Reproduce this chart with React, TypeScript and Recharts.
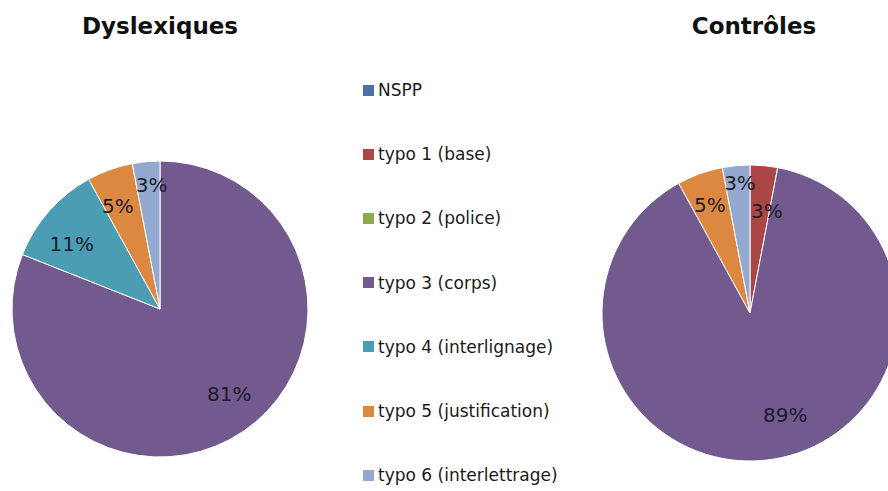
import React from "react";
import { PieChart, Pie, Cell, Legend } from "recharts";

const categories = [
  "NSPP",
  "typo 1 (base)",
  "typo 2 (police)",
  "typo 3 (corps)",
  "typo 4 (interlignage)",
  "typo 5 (justification)",
  "typo 6 (interlettrage)",
];
const dyslexiquesValues = [0, 0, 0, 81, 11, 5, 3];
const controlesValues = [0, 3, 0, 89, 0, 5, 3];
const titles = ["Dyslexiques", "Contrôles"];

const colors = ["#4A72A6", "#AA4745", "#8DAA4F", "#72598E", "#4A9DB3", "#DC8840", "#94A9D0"];
// label placement styles: radius factor and angular nudge (degrees)
const dysLabelR = [0.74, 0.74, 0.74, 0.74, 0.74, 0.75, 0.84];
const dysLabelA = [0, 0, 0, 5, 5, 2.5, -1.5];
const ctlLabelR = [0.74, 0.7, 0.74, 0.73, 0.74, 0.78, 0.88];
const ctlLabelA = [0, -4, 0, 10, 0, 0.5, -1];

const toData = (vals: number[]) => categories.map((name, i) => ({ name, value: vals[i] }));
const dysData = toData(dyslexiquesValues);
const ctlData = toData(controlesValues);

const RAD = Math.PI / 180;
const makeLabel = (factors: number[], nudges: number[]) => (props: any) => {
  const { cx, cy, midAngle, outerRadius, value, index } = props;
  if (!value) return null;
  const r = outerRadius * factors[index];
  const a = midAngle + nudges[index];
  const x = cx + r * Math.cos(-a * RAD);
  const y = cy + r * Math.sin(-a * RAD);
  return (
    <text
      x={x}
      y={y}
      textAnchor="middle"
      dominantBaseline="central"
      fill="#1c1c2c"
      fontSize={20}
      fontFamily="DejaVu Sans"
    >
      {`${value}%`}
    </text>
  );
};

const LegendContent = () => (
  <div style={{ display: "flex", flexDirection: "column", fontFamily: "DejaVu Sans", fontSize: 17, color: "#1a1a1a" }}>
    {categories.map((c, i) => (
      <div key={c} style={{ height: 64.2, display: "flex", alignItems: "center", whiteSpace: "nowrap" }}>
        <span style={{ display: "inline-block", width: 11, height: 11, background: colors[i], marginRight: 4 }} />
        <span>{c}</span>
      </div>
    ))}
  </div>
);

export default function App() {
  return (
    <div style={{ position: "absolute", left: 0, top: 0, width: 888, height: 491, background: "#fff", overflow: "hidden" }}>
      <PieChart width={888} height={491} margin={{ top: 0, right: 0, bottom: 0, left: 0 }}>
        <Pie
          data={dysData}
          dataKey="value"
          nameKey="name"
          cx={160}
          cy={309}
          outerRadius={148}
          startAngle={90}
          endAngle={-270}
          stroke="#fff"
          strokeWidth={1}
          labelLine={false}
          label={makeLabel(dysLabelR, dysLabelA)}
          isAnimationActive={false}
        >
          {dysData.map((d, i) => (
            <Cell key={d.name} fill={colors[i]} />
          ))}
        </Pie>
        <Pie
          data={ctlData}
          dataKey="value"
          nameKey="name"
          cx={750}
          cy={313}
          outerRadius={148}
          startAngle={90}
          endAngle={-270}
          stroke="#fff"
          strokeWidth={1}
          labelLine={false}
          label={makeLabel(ctlLabelR, ctlLabelA)}
          isAnimationActive={false}
        >
          {ctlData.map((d, i) => (
            <Cell key={d.name} fill={colors[i]} />
          ))}
        </Pie>
        <Legend
          layout="vertical"
          content={() => <LegendContent />}
          wrapperStyle={{ position: "absolute", left: 363, top: 58, width: 240, height: 460 }}
        />
      </PieChart>
      <svg width={888} height={60} style={{ position: "absolute", left: 0, top: 0 }}>
        <text x={160} y={34} textAnchor="middle" fontFamily="DejaVu Sans" fontWeight="bold" fontSize={23} fill="#111">
          {titles[0]}
        </text>
        <text x={754} y={34} textAnchor="middle" fontFamily="DejaVu Sans" fontWeight="bold" fontSize={23} fill="#111">
          {titles[1]}
        </text>
      </svg>
    </div>
  );
}
